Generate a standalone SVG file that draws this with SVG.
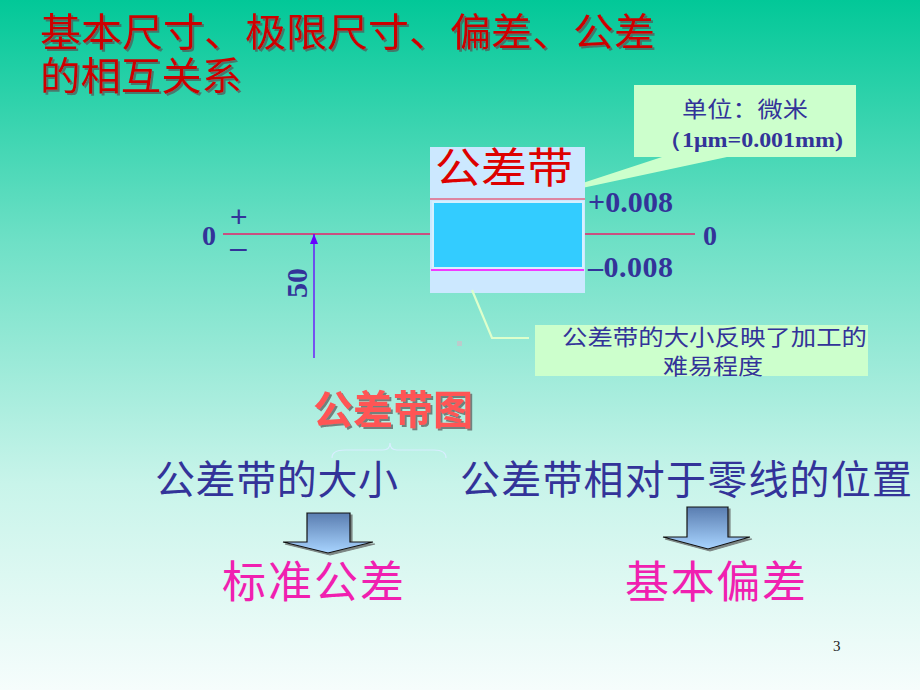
<svg xmlns="http://www.w3.org/2000/svg" width="920" height="690" viewBox="0 0 920 690">
<defs>
<linearGradient id="bg" x1="0" y1="0" x2="0" y2="1">
<stop offset="0" stop-color="#02C898"/>
<stop offset="0.35" stop-color="#6EE0C6"/>
<stop offset="0.7" stop-color="#C8F4EA"/>
<stop offset="1" stop-color="#F6FDFC"/>
</linearGradient>
<linearGradient id="arr" x1="0" y1="0" x2="0" y2="1">
<stop offset="0" stop-color="#5A7DB0"/>
<stop offset="1" stop-color="#A8D4FF"/>
</linearGradient>
<marker id="ah" markerWidth="10" markerHeight="10" refX="10" refY="5" orient="auto" markerUnits="userSpaceOnUse" viewBox="0 0 10 10">
<path d="M0,1 L10,5 L0,9 Z" fill="#6600FF"/>
</marker>
<filter id="sh" x="-10%" y="-10%" width="130%" height="130%">
<feDropShadow dx="2" dy="2" stdDeviation="0.6" flood-color="#555" flood-opacity="0.7"/>
</filter>
</defs>
<style>
.cjk{font-family:"Noto Sans CJK SC","Noto Sans",sans-serif}
.num{font-family:"Liberation Serif",serif;font-weight:bold;fill:#333399}
.blue{fill:#333399}
.title{fill:#CC0000;font-size:39px}
.big{font-size:40px;fill:#333399}
.mag{font-size:44px;fill:#F020B0}
.callout{fill:#CCFFCC}
.barrow{fill:url(#arr);stroke:#111;stroke-width:1.2}
</style>
<rect x="0" y="0" width="920" height="690" fill="url(#bg)"/>

<g id="title">
<text class="cjk title" x="40" y="46" textLength="615" lengthAdjust="spacingAndGlyphs" filter="url(#sh)">基本尺寸、极限尺寸、偏差、公差</text>
<text class="cjk title" x="40" y="90" textLength="202" lengthAdjust="spacingAndGlyphs" filter="url(#sh)">的相互关系</text>
</g>

<g id="unit-callout">
<path class="callout" d="M634,85 H856 V157 H727 L540,197 L662,157 H634 Z"/>
<text class="cjk blue" x="682" y="117" font-size="22" textLength="126" lengthAdjust="spacingAndGlyphs">单位：微米</text>
<text class="blue" x="658" y="147" font-size="21" textLength="185" lengthAdjust="spacingAndGlyphs" font-family="Liberation Serif,serif" font-weight="bold">（1μm=0.001mm)</text>
</g>

<g id="zero-line">
<line x1="223" y1="234" x2="432" y2="234" stroke="#E8206A" stroke-width="1.5"/>
<line x1="583" y1="234" x2="695" y2="234" stroke="#E8206A" stroke-width="1.5"/>
<text class="num" x="202" y="245" font-size="28">0</text>
<text class="num" x="703" y="245" font-size="28">0</text>
<text class="blue" x="230" y="227" font-size="30" font-family="Liberation Sans,sans-serif">+</text>
<text class="blue" x="230" y="258" font-size="30" font-family="Liberation Sans,sans-serif">–</text>
</g>

<g id="tolerance-zone">
<rect x="430" y="147" width="155" height="146" fill="#CCE8FF"/>
<text class="cjk" x="435" y="183" font-size="42" textLength="138" lengthAdjust="spacingAndGlyphs" fill="#DD0000">公差带</text>
<line x1="430" y1="199" x2="585" y2="199" stroke="#EE2244" stroke-width="1.2"/>
<rect x="433" y="202" width="150" height="66" fill="#33CCFF" stroke="#D6F0FF" stroke-width="2"/>
<line x1="431" y1="270" x2="584" y2="270" stroke="#FF00FF" stroke-width="1.5"/>
<text class="num" x="588" y="212" font-size="30" textLength="85">+0.008</text>
<text class="num" x="588" y="277" font-size="30" textLength="85">–0.008</text>
</g>

<g id="dimension">
<line x1="314" y1="358" x2="314" y2="234" stroke="#6600FF" stroke-width="1.3" marker-end="url(#ah)"/>
<text class="num" x="0" y="0" font-size="30" transform="translate(307,298) rotate(-90)">50</text>
</g>

<rect x="457" y="341" width="5" height="5" fill="#BBCCCC"/>

<g id="size-callout">
<polyline points="472,290 492,338 529,338" fill="none" stroke="#DDFFCC" stroke-width="2.2"/>
<rect class="callout" x="535" y="325" width="333" height="51"/>
<text class="cjk blue" x="562" y="345" font-size="22" textLength="305" lengthAdjust="spacingAndGlyphs">公差带的大小反映了加工的</text>
<text class="cjk blue" x="663" y="374" font-size="22" textLength="100" lengthAdjust="spacingAndGlyphs">难易程度</text>
</g>

<g id="diagram-label">
<text class="cjk" x="313" y="424" font-size="40" textLength="160" fill="#FF5555" font-weight="bold" filter="url(#sh)">公差带图</text>
<path d="M332,458 Q332,450 345,450 H383 Q390,450 390,443 Q390,450 397,450 H434 Q446,450 446,458" fill="none" stroke="#D8EEFF" stroke-width="1.2"/>
</g>

<g id="size">
<text class="cjk big" x="155" y="494" textLength="243">公差带的大小</text>
</g>
<g id="position">
<text class="cjk big" x="460" y="494" textLength="452">公差带相对于零线的位置</text>
</g>

<g id="arrows">
<path class="barrow" filter="url(#sh)" d="M307,513 H350 V542 H373 L328,553 L283,542 H307 Z"/>
<path class="barrow" filter="url(#sh)" d="M687,507 H728 V537 H750 L708,549 L663,537 H687 Z"/>
</g>

<g id="standard-tolerance">
<text class="cjk mag" x="222" y="598" textLength="182">标准公差</text>
</g>
<g id="fundamental-deviation">
<text class="cjk mag" x="625" y="598" textLength="181">基本偏差</text>
</g>

<text x="833" y="651" font-size="15" font-family="Liberation Serif,serif" fill="#222">3</text>
</svg>
